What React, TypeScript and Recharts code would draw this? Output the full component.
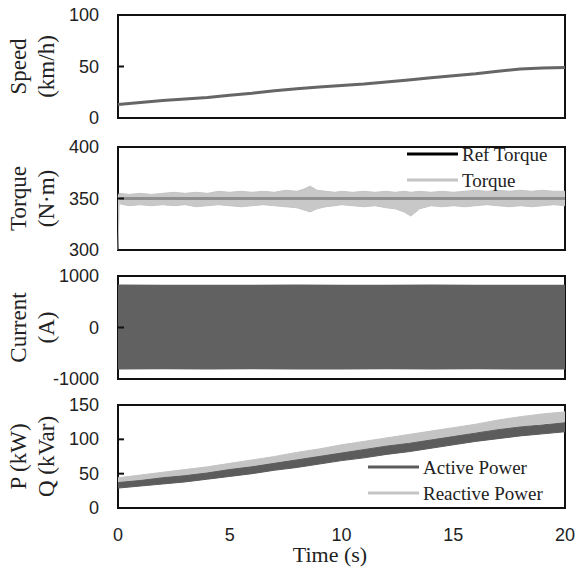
import { ComposedChart, Line, Area, XAxis, YAxis, ReferenceArea, Legend } from "recharts"

// speed (km/h)
const speedTime = [0, 1, 2, 3, 4, 5, 6, 7, 8, 9, 10, 11, 12, 13, 14, 15, 16, 17, 18, 19, 20]
const speedKmh = [13, 15, 17, 18.5, 20, 22, 24, 26.5, 28.5, 30, 31.5, 33, 35, 37, 39, 41, 43, 45.5, 47.5, 48.5, 49]

// torque envelope (N·m)
const torqueTime = [0, 0.05, 0.5, 1, 1.5, 2, 2.5, 3, 3.5, 4, 4.5, 5, 5.5, 6, 6.5, 7, 7.5, 8, 8.3, 8.6, 8.9, 9.3, 9.7, 10, 10.5, 11, 11.5, 12, 12.4, 12.8, 13.1, 13.5, 14, 14.5, 15, 15.5, 16, 16.5, 17, 17.5, 18, 18.5, 19, 19.5, 20]
const torqueHigh = [352, 355, 354, 355, 354, 355, 356, 355, 356, 355, 357, 356, 357, 356, 357, 356, 358, 357, 359, 362, 358, 357, 356, 357, 356, 357, 356, 357, 356, 357, 356, 357, 356, 357, 356, 357, 358, 357, 358, 357, 358, 357, 358, 357, 357]
const torqueLow = [300, 345, 343, 344, 343, 344, 343, 344, 342, 343, 344, 343, 342, 343, 344, 343, 342, 341, 339, 337, 340, 342, 343, 344, 343, 342, 343, 341, 340, 337, 333, 340, 343, 342, 343, 342, 343, 344, 343, 342, 343, 342, 343, 344, 343]
const refTorque = 350

// current envelope (A)
const currentTime = [0, 2, 4, 6, 8, 10, 12, 14, 16, 18, 20]
const currentHigh = [835, 830, 832, 828, 833, 830, 829, 834, 830, 832, 831]
const currentLow = [-815, -812, -816, -810, -814, -817, -811, -815, -813, -816, -814]

// power envelopes (kW / kVar)
const powerTime = [0, 1, 2, 3, 4, 5, 6, 7, 8, 9, 10, 11, 12, 13, 14, 15, 16, 17, 18, 19, 20]
const activeLow = [29, 32, 35, 38, 42, 46, 50, 55, 59, 64, 69, 73, 78, 82, 87, 92, 97, 101, 105, 108, 111]
const activeHigh = [37, 40, 44, 47, 51, 56, 60, 65, 70, 75, 80, 85, 90, 94, 99, 104, 109, 114, 118, 121, 124]
const reactiveLow = [36, 39, 43, 46, 50, 54, 59, 64, 69, 74, 80, 85, 90, 95, 100, 105, 110, 115, 119, 123, 125]
const reactiveHigh = [44, 48, 52, 56, 60, 65, 70, 75, 81, 86, 92, 97, 102, 107, 112, 117, 122, 128, 133, 137, 140]

const timeTicks = [0, 5, 10, 15, 20]

const speedData = speedTime.map((t, i) => ({ t, speed: speedKmh[i] }))
const torqueData = torqueTime.map((t, i) => ({ t, band: [torqueLow[i], torqueHigh[i]], ref: i === 0 ? null : refTorque }))
const currentData = currentTime.map((t, i) => ({ t, band: [currentLow[i], currentHigh[i]] }))
const powerData = powerTime.map((t, i) => ({
  t,
  active: [activeLow[i], activeHigh[i]],
  reactive: [reactiveLow[i], reactiveHigh[i]],
}))

const SERIF = '"Liberation Serif", "Times New Roman", serif'
const SANS = '"Liberation Sans", Arial, sans-serif'
const W = 579
const PLOT_LEFT = 118
const MARGIN = { left: 0, right: 14 }

const YTick = (props: any) => {
  const { x, y, payload } = props
  return (
    <g>
      <line x1={PLOT_LEFT} x2={PLOT_LEFT + 6} y1={y} y2={y} stroke="#111" strokeWidth={2} />
      <text x={x} y={y} textAnchor="end" dominantBaseline="central" fontFamily={SANS} fontSize={18} fill="#222">
        {payload.value}
      </text>
    </g>
  )
}

const yTitle = (first: string, second: string) => (props: any) => {
  const vb = props.viewBox || {}
  const cy = vb.y + vb.height / 2
  return (
    <g fontFamily={SERIF} fontSize={23} fill="#222">
      <text x={18} y={cy} textAnchor="middle" dominantBaseline="central" transform={`rotate(-90 18 ${cy})`}>
        {first}
      </text>
      <text x={46} y={cy} textAnchor="middle" dominantBaseline="central" transform={`rotate(-90 46 ${cy})`}>
        {second}
      </text>
    </g>
  )
}

const LegendBox = ({ items }: { items: { name: string; color: string }[] }) => (
  <svg width={190} height={52}>
    {items.map((it, i) => (
      <g key={it.name}>
        <line x1={2} x2={53} y1={11 + i * 26} y2={11 + i * 26} stroke={it.color} strokeWidth={3} />
        <text x={57} y={11 + i * 26} dominantBaseline="central" fontFamily={SERIF} fontSize={19} fill="#222">
          {it.name}
        </text>
      </g>
    ))}
  </svg>
)

const Frame = ({ y1, y2 }: { y1: number; y2: number }) => (
  <ReferenceArea x1={0} x2={20} y1={y1} y2={y2} fill="none" stroke="#111" strokeWidth={2} ifOverflow="visible" />
)

export default function App() {
  return (
    <div style={{ position: "absolute", left: 0, top: 0, width: W, height: 568, background: "#fff" }}>
      <div style={{ position: "absolute", left: 0, top: 0 }}>
        <ComposedChart width={W} height={130} data={speedData} margin={{ ...MARGIN, top: 15, bottom: 12 }}>
          <XAxis dataKey="t" type="number" domain={[0, 20]} ticks={timeTicks} hide />
          <YAxis domain={[0, 100]} ticks={[0, 50, 100]} width={118} axisLine={false} tickLine={false} tickSize={0} tickMargin={19} tick={YTick} label={{ content: yTitle("Speed", "(km/h)") }} />
          {Frame({ y1: 0, y2: 100 })}
          <Line dataKey="speed" type="linear" stroke="#666" strokeWidth={3} dot={false} isAnimationActive={false} />
        </ComposedChart>
      </div>

      <div style={{ position: "absolute", left: 0, top: 135 }}>
        <ComposedChart width={W} height={125} data={torqueData} margin={{ ...MARGIN, top: 12, bottom: 10 }}>
          <XAxis dataKey="t" type="number" domain={[0, 20]} ticks={timeTicks} hide />
          <YAxis domain={[300, 400]} ticks={[300, 350, 400]} width={118} axisLine={false} tickLine={false} tickSize={0} tickMargin={19} tick={YTick} allowDataOverflow label={{ content: yTitle("Torque", "(N·m)") }} />
          {Frame({ y1: 300, y2: 400 })}
          <Area dataKey="band" type="linear" stroke="#c4c4c4" strokeWidth={1} fill="#c8c8c8" fillOpacity={1} isAnimationActive={false} />
          <Line dataKey="ref" type="linear" stroke="#8f8f8f" strokeWidth={3} dot={false} isAnimationActive={false} />
          <Legend
            layout="horizontal"
            verticalAlign="middle"
            align="center"
            wrapperStyle={{ left: 405, top: 8, width: 190 }}
            content={() => (
              <LegendBox
                items={[
                  { name: "Ref Torque", color: "#000" },
                  { name: "Torque", color: "#c4c4c4" },
                ]}
              />
            )}
          />
        </ComposedChart>
      </div>

      <div style={{ position: "absolute", left: 0, top: 264 }}>
        <ComposedChart width={W} height={125} data={currentData} margin={{ ...MARGIN, top: 12, bottom: 10 }}>
          <XAxis dataKey="t" type="number" domain={[0, 20]} ticks={timeTicks} hide />
          <YAxis domain={[-1000, 1000]} ticks={[-1000, 0, 1000]} width={118} axisLine={false} tickLine={false} tickSize={0} tickMargin={19} tick={YTick} label={{ content: yTitle("Current", "(A)") }} />
          {Frame({ y1: -1000, y2: 1000 })}
          <Area dataKey="band" type="linear" stroke="none" fill="#616161" fillOpacity={1} isAnimationActive={false} />
        </ComposedChart>
      </div>

      <div style={{ position: "absolute", left: 0, top: 390 }}>
        <ComposedChart width={W} height={178} data={powerData} margin={{ ...MARGIN, top: 15, bottom: 0 }}>
          <XAxis
            dataKey="t"
            type="number"
            domain={[0, 20]}
            ticks={timeTicks}
            height={60}
            axisLine={false}
            tickLine={false}
            tickSize={0}
            tickMargin={20}
            tick={{ fontFamily: SANS, fontSize: 18, fill: "#222" }}
            label={{
              content: () => (
                <text x={330} y={164} textAnchor="middle" dominantBaseline="central" fontFamily={SERIF} fontSize={22} fill="#222">
                  Time (s)
                </text>
              ),
            }}
          />
          <YAxis domain={[0, 150]} ticks={[0, 50, 100, 150]} width={118} axisLine={false} tickLine={false} tickSize={0} tickMargin={19} tick={YTick} label={{ content: yTitle("P (kW)", "Q (kVar)") }} />
          {Frame({ y1: 0, y2: 150 })}
          <Area dataKey="reactive" type="linear" stroke="#c4c4c4" fill="#c4c4c4" fillOpacity={1} isAnimationActive={false} />
          <Area dataKey="active" type="linear" stroke="#5c5c5c" fill="#5c5c5c" fillOpacity={1} isAnimationActive={false} />
          <Legend
            layout="horizontal"
            verticalAlign="middle"
            align="center"
            wrapperStyle={{ left: 366, top: 66, width: 200 }}
            content={() => (
              <LegendBox
                items={[
                  { name: "Active Power", color: "#5c5c5c" },
                  { name: "Reactive Power", color: "#c4c4c4" },
                ]}
              />
            )}
          />
        </ComposedChart>
      </div>
    </div>
  )
}
